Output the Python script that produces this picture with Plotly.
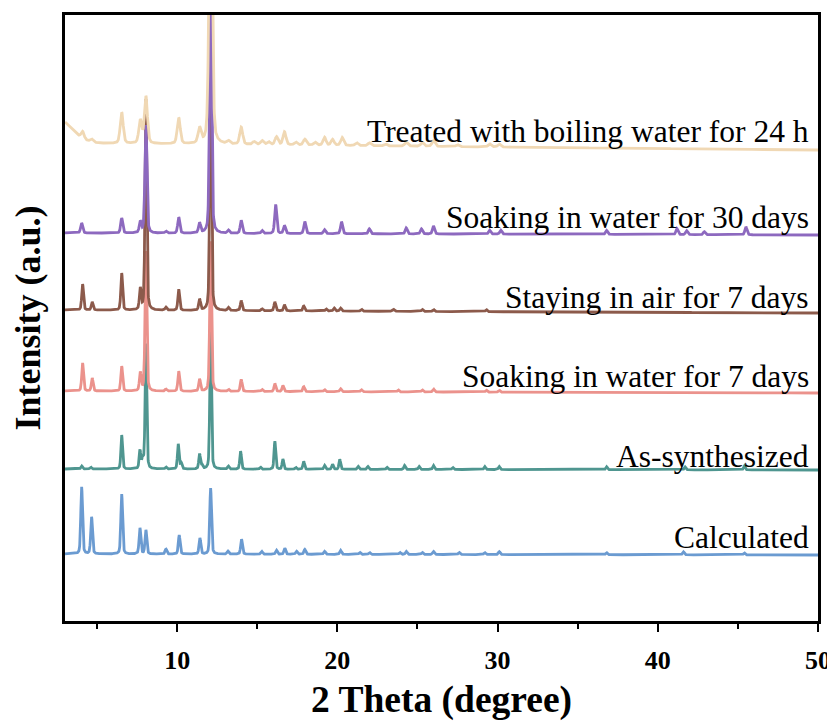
import numpy as np
import plotly.graph_objects as go

# ---- data (2-theta in degrees, intensities in arbitrary units) ----
labels = ["Calculated", "As-synthesized", "Soaking in water for 7 days",
          "Staying in air for 7 days", "Soaking in water for 30 days",
          "Treated with boiling water for 24 h"]
colors = ["#6b9bd1", "#4f9690", "#eb928c", "#8c5a4b", "#8d69bf", "#f0d8b4"]

# vertical offsets of each pattern (baseline at 3 deg, baseline at 50 deg)
base_left = [67, 152, 230, 311, 388, 478]
base_right = [66, 151, 228, 308, 386, 471]
fwhm = [0.13, 0.12, 0.13, 0.13, 0.15, 0.22]
eta = 0.35  # lorentzian fraction of the peak profile

calc_pos = [4.04, 4.66, 6.54, 7.68, 8.05, 9.30, 10.13, 11.42, 12.09, 13.17, 14.02, 15.27, 16.2,
            16.72, 17.45, 17.97, 19.2, 20.2, 21.4, 22.0, 23.9, 24.3, 25.3, 26.0, 27.6, 29.2, 30.1,
            36.8, 41.6, 45.4]
calc_int = [67, 37, 60, 26, 24, 5, 19, 16, 66, 3, 15, 3, 4,
            6, 3, 5, 3, 4, 2, 2, 2, 3, 2, 3, 2, 2, 3,
            2, 3, 2]

as_pos = [4.04, 4.6, 6.54, 7.68, 7.85, 8.05, 9.3, 10.07, 10.25, 11.4, 11.55, 12.09, 13.2, 13.96,
          15.2, 16.1, 16.6, 17.4, 17.9, 19.2, 19.7, 20.15, 21.3, 21.9, 23.1, 24.2, 25.1, 26.0,
          27.2, 29.2, 30.1, 36.8, 41.7, 45.4]
as_int = [3, 2, 34, 18, 10, 125, 2, 25, 6, 15, 4, 140, 3, 18,
          2, 28, 10, 2, 8, 4, 5, 10, 3, 3, 2, 4, 3, 4,
          2, 3, 3, 3, 3, 4]

w7_pos = [4.1, 4.7, 6.54, 7.7, 8.05, 9.3, 10.1, 11.4, 12.09, 13.2, 14.0, 15.3, 16.1, 16.6, 17.9,
          19.2, 20.2, 21.5, 23.8, 25.3, 26.0, 29.3, 30.1]
w7_int = [28, 13, 25, 18, 140, 2, 20, 12, 150, 2, 12, 2, 8, 6, 5,
          2, 3, 2, 2, 2, 3, 2, 2]

air_pos = [4.1, 4.7, 6.54, 7.7, 8.05, 9.3, 10.1, 11.4, 12.09, 13.2, 14.0, 15.3, 16.1, 16.7, 17.9,
           19.3, 19.8, 20.2, 21.5, 23.5, 25.3, 26.0, 29.3]
air_int = [26, 8, 37, 21, 211, 3, 21, 11, 260, 3, 10, 2, 9, 6, 5,
           2, 3, 3, 2, 2, 2, 2, 2]

w30_pos = [4.04, 6.54, 7.7, 8.05, 9.3, 10.1, 11.4, 12.09, 13.2, 14.0, 15.3, 16.15, 16.7, 17.97,
           19.2, 20.26, 22.0, 24.3, 25.25, 26.0, 29.5, 30.2, 36.8, 41.2, 41.8, 42.9, 45.5]
w30_int = [10, 15, 11, 108, 2, 16, 10, 260, 3, 13, 3, 29, 8, 12,
           4, 12, 5, 6, 5, 8, 4, 4, 4, 6, 4, 3, 8]

boil_pos = [4.1, 4.66, 6.54, 7.7, 8.05, 10.1, 11.4, 12.09, 13.2, 14.0, 14.8, 15.3, 15.7, 16.2,
            16.7, 17.4, 17.97, 18.6, 19.2, 19.7, 20.3, 21.2, 22.0, 23.0, 24.3, 25.3, 26.0, 27.5,
            29.5, 30.1]
boil_int = [7, 3, 31, 23, 47, 26, 15, 320, 3, 17, 3, 4, 3, 8,
            13, 3, 6, 3, 8, 6, 8, 3, 3, 2, 4, 4, 6, 2,
            3, 3]

# broad low-angle background hump of the boiled sample: centre, width, height
boil_bg = [2.4, 1.3, 26]

peak_pos = [calc_pos, as_pos, w7_pos, air_pos, w30_pos, boil_pos]
peak_int = [calc_int, as_int, w7_int, air_int, w30_int, boil_int]

x_ticks = [10, 20, 30, 40, 50]
x_minor = [5, 15, 25, 35, 45]
label_y = [84, 165, 245, 324, 404, 490]

# ---- build patterns from the peak lists ----
tt = np.arange(3.0, 50.001, 0.01)


def pattern(i):
    y = base_left[i] + (base_right[i] - base_left[i]) * (tt - 3.0) / 47.0
    g = fwhm[i] / 2.0
    for p, h in zip(peak_pos[i], peak_int[i]):
        d = tt - p
        lor = g * g / (d * d + g * g)
        gau = np.exp(-np.log(2) * (d / g) ** 2)
        y = y + h * (eta * lor + (1 - eta) * gau)
    if i == 5:
        c, w, h = boil_bg
        y = y + h * np.exp(-((tt - c) / w) ** 2)
    return y


fig = go.Figure()
for i in range(len(labels)):
    fig.add_trace(go.Scatter(x=tt, y=pattern(i), mode="lines", name=labels[i],
                             line=dict(color=colors[i], width=2.8), showlegend=False))

for i in range(len(labels)):
    fig.add_annotation(x=0.991, xref="paper", y=label_y[i], yref="y", text=labels[i],
                       showarrow=False, xanchor="right", yanchor="middle",
                       font=dict(family="Liberation Serif", size=31.5, color="black"))

fig.update_xaxes(range=[3, 50], tickvals=x_ticks, ticktext=[str(v) for v in x_ticks],
                 ticks="outside", ticklen=8, tickwidth=2,
                 tickcolor="black", showline=True, linecolor="black", linewidth=2.5, mirror=True,
                 showgrid=False, zeroline=False, automargin=False, ticklabelstandoff=6,
                 minor=dict(tickvals=x_minor, ticks="outside", ticklen=5,
                            tickwidth=2, tickcolor="black"),
                 tickfont=dict(family="Liberation Serif", size=26, color="black", weight="bold"),
                 title=dict(text="<b>2 Theta (degree)</b>", standoff=12,
                            font=dict(family="Liberation Serif", size=37.5, color="black")))
fig.update_yaxes(range=[0, 606], showticklabels=False, ticks="", showline=True,
                 linecolor="black", linewidth=2.5, mirror=True, showgrid=False, zeroline=False,
                 automargin=False,
                 title=dict(text="<b>Intensity (a.u.)</b>", standoff=14,
                            font=dict(family="Liberation Serif", size=36, color="black")))
# the page body adds an 8 px offset, so the figure is 8 px smaller and margins compensate
fig.update_layout(width=827, height=720, margin=dict(l=57, r=17, t=7, b=107),
                  plot_bgcolor="white", paper_bgcolor="white")
fig.write_html("out.html")
